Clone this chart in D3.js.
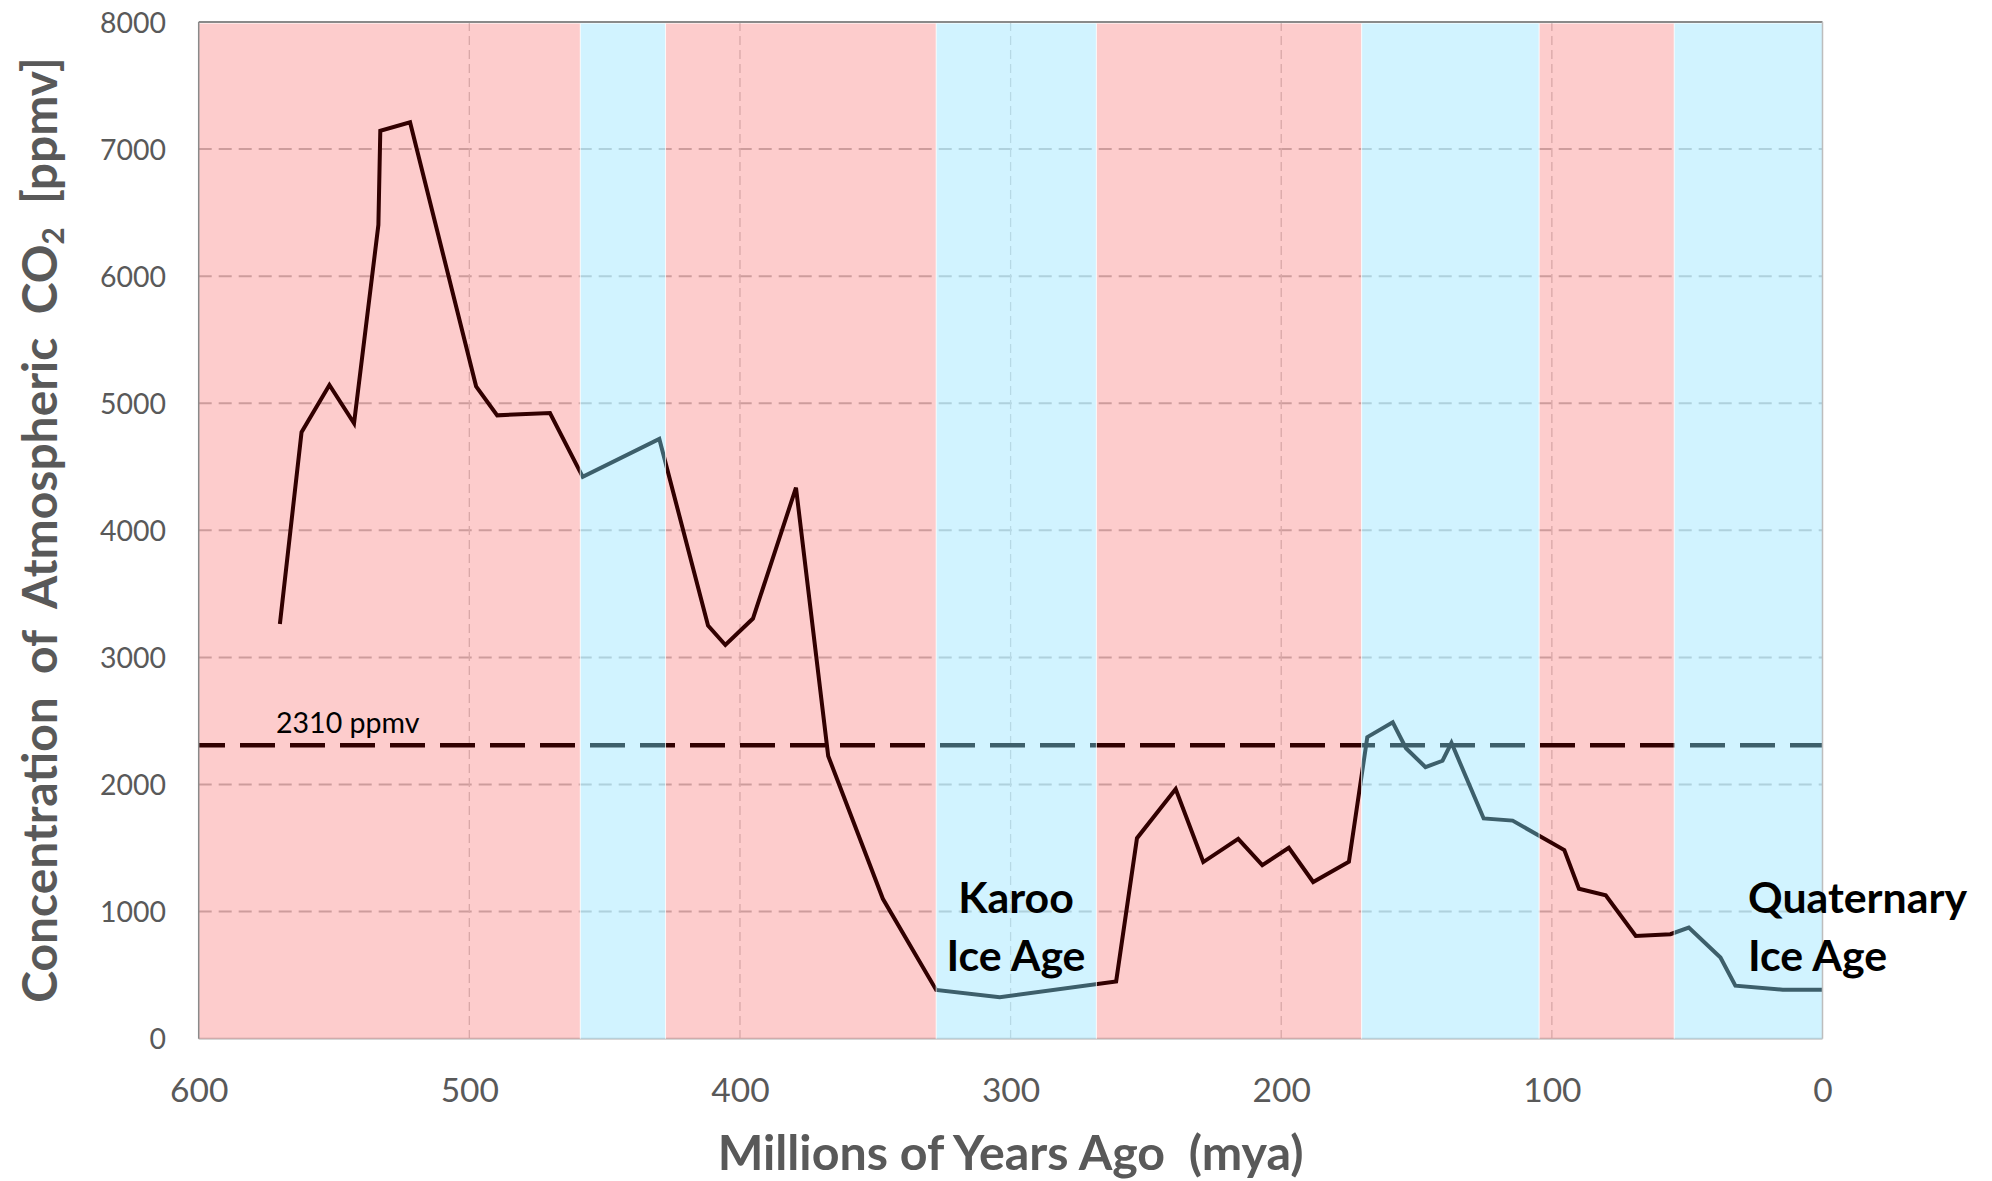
<!DOCTYPE html>
<html>
<head>
<meta charset="utf-8">
<script src="https://cdn.jsdelivr.net/npm/d3@7"></script>
<style>
  html, body { margin: 0; padding: 0; background: #fff; }
  text { white-space: pre; }
</style>
</head>
<body>
<svg id="chart" width="1992" height="1181"></svg>
<script>
// ---------------- data ----------------
const mya = [570, 562, 551.7, 542.6, 533.6, 532.9, 521.9, 497.5, 489.7, 470.2, 458.1, 429.8,
  411.8, 405.4, 395.2, 379.3, 367.4, 347.2, 327.5, 304, 261, 253.3, 239, 228.8, 215.9, 207,
  197.2, 188.2, 175, 168.2, 158.8, 153.9, 146.7, 140.4, 137.1, 125.2, 114.5, 95.4, 90, 80.1,
  69, 56.2, 49.4, 37.7, 32.2, 14.7, 0];
const co2 = [3263, 4772, 5144, 4842, 6404, 7144, 7211, 5133, 4905, 4923, 4421, 4719,
  3251, 3098, 3306, 4336, 2225, 1101, 384, 326, 451, 1578, 1965, 1390, 1573, 1366,
  1502, 1233, 1392, 2373, 2490, 2286, 2137, 2187, 2328, 1733, 1716, 1484, 1180, 1128,
  809, 822, 875, 639, 417, 386, 386];
const bandEdges = [600, 459, 427.5, 327.5, 268.3, 170.3, 104.7, 54.8, 0];
const bandTypes = ["warm", "cold", "warm", "cold", "warm", "cold", "warm", "cold"];
const yTicks = [0, 1000, 2000, 3000, 4000, 5000, 6000, 7000, 8000];
const xTicks = [600, 500, 400, 300, 200, 100, 0];
const threshold = 2310;
const thresholdLabel = "2310 ppmv";
const annotations = [
  { lines: ["Karoo", "Ice Age"], at: 298, anchor: "middle" },
  { lines: ["Quaternary", "Ice Age"], at: 27.5, anchor: "start" }
];
const xTitle = "Millions of Years Ago  (mya)";

// ---------------- layout ----------------
const L = 198.7, R = 1822.5, T = 22, B = 1038.7;
const svg = d3.select("#chart");
const x = d3.scaleLinear().domain([600, 0]).range([L, R]);
const y = d3.scaleLinear().domain([0, 8000]).range([B, T]);
const FONT = "Lato, 'Open Sans', sans-serif";
const GREY = "#595959";

function fit(sel, target) {
  const w = sel.node().getComputedTextLength();
  const fs = parseFloat(sel.attr("font-size"));
  const nfs = fs * target / w;
  sel.attr("font-size", nfs);
  return nfs;
}

// gridlines (under bands)
const grid = svg.append("g");
grid.selectAll("line.h").data(yTicks.filter(d => d > 0 && d < 8000)).join("line")
  .attr("x1", L).attr("x2", R).attr("y1", d => y(d)).attr("y2", d => y(d))
  .attr("stroke", "#c4c4c4").attr("stroke-width", 2).attr("stroke-dasharray", "13,7");
grid.selectAll("line.v").data(xTicks.filter(d => d > 0 && d < 600)).join("line")
  .attr("x1", d => x(d)).attr("x2", d => x(d)).attr("y1", T).attr("y2", B)
  .attr("stroke", "#d2d2d2").attr("stroke-width", 1.3).attr("stroke-dasharray", "9,5");

// bottom axis line (under bands)
svg.append("line").attr("x1", L).attr("x2", R).attr("y1", B).attr("y2", B)
  .attr("stroke", "#c8c8c8").attr("stroke-width", 2);

// threshold dashed line
svg.append("line").attr("x1", L).attr("x2", R)
  .attr("y1", y(threshold)).attr("y2", y(threshold))
  .attr("stroke", "#000").attr("stroke-width", 4.5)
  .attr("stroke-dasharray", "35,15").attr("stroke-dashoffset", 8.7);

// data line
const pts = mya.map((m, i) => [m, co2[i]]);
svg.append("path").datum(pts)
  .attr("d", d3.line().x(d => x(d[0])).y(d => y(d[1])))
  .attr("fill", "none").attr("stroke", "#000").attr("stroke-width", 4)
  .attr("stroke-linejoin", "miter").attr("stroke-miterlimit", 4);

// translucent climate bands on top
const bands = bandTypes.map((t, i) => ({ t, a: bandEdges[i], b: bandEdges[i + 1] }));
svg.append("g").selectAll("rect").data(bands).join("rect")
  .attr("x", d => x(d.a)).attr("width", d => x(d.b) - x(d.a))
  .attr("y", T + 1.5).attr("height", B - T - 1.5)
  .attr("fill", d => d.t === "warm" ? "rgb(243,0,0)" : "rgb(145,226,255)")
  .attr("fill-opacity", d => d.t === "warm" ? 0.2 : 0.42);
// thin white separators
svg.append("g").selectAll("line").data(bandEdges.slice(1, -1)).join("line")
  .attr("x1", d => x(d)).attr("x2", d => x(d)).attr("y1", T + 1.5).attr("y2", B)
  .attr("stroke", "#fff").attr("stroke-width", 1).attr("stroke-opacity", 0.8);

// frame
svg.append("line").attr("x1", L).attr("x2", R).attr("y1", T).attr("y2", T)
  .attr("stroke", "#8a8a8a").attr("stroke-width", 2);
svg.append("line").attr("x1", L).attr("x2", L).attr("y1", T).attr("y2", B)
  .attr("stroke", "#8a8a8a").attr("stroke-width", 1.5);
svg.append("line").attr("x1", R).attr("x2", R).attr("y1", T).attr("y2", B)
  .attr("stroke", "#bdbdbd").attr("stroke-width", 1.5);

// y axis
const yAxis = svg.append("g").attr("transform", `translate(${L},0)`)
  .call(d3.axisLeft(y).tickValues(yTicks).tickSize(0).tickPadding(32.7).tickFormat(d3.format("d")));
yAxis.select(".domain").remove();
yAxis.selectAll("text").attr("font-family", FONT).attr("font-size", 28).attr("fill", GREY)
  .attr("dy", "0.36em");
{
  const t8 = yAxis.selectAll("text").filter(d => d === 8000);
  const fs = fit(t8, 66);
  yAxis.selectAll("text").attr("font-size", fs);
}

// x axis
const xAxis = svg.append("g").attr("transform", `translate(0,${B})`)
  .call(d3.axisBottom(x).tickValues(xTicks).tickSize(0).tickFormat(d3.format("d")));
xAxis.select(".domain").remove();
xAxis.selectAll("text").attr("font-family", FONT).attr("font-size", 36).attr("fill", GREY)
  .attr("y", 63).attr("dy", 0);
{
  const t6 = xAxis.selectAll("text").filter(d => d === 600);
  const fs = fit(t6, 58.4);
  xAxis.selectAll("text").attr("font-size", fs);
}

// axis titles
const xt = svg.append("text").attr("x", (L + R) / 2).attr("y", 1170)
  .attr("text-anchor", "middle").attr("font-family", FONT).attr("font-weight", 700)
  .attr("font-size", 48).attr("fill", GREY).text(xTitle);
fit(xt, 586);

const yt = svg.append("text").attr("transform", "translate(57,530) rotate(-90)")
  .attr("text-anchor", "middle").attr("font-family", FONT).attr("font-weight", 700)
  .attr("font-size", 48).attr("fill", GREY);
yt.append("tspan").text("Concentration  of  Atmospheric  CO");
const sub = yt.append("tspan").attr("baseline-shift", "-22%").attr("font-size", "62%").text("2");
yt.append("tspan").attr("baseline-shift", "0").text("  [ppmv]");
{
  const fs = fit(yt, 946);
}

// threshold label
const tl = svg.append("text").attr("x", 276).attr("y", 733.3)
  .attr("font-family", FONT).attr("font-size", 30).attr("fill", "#000").text(thresholdLabel);
fit(tl, 143.5);

// annotations
const ann = svg.append("g");
let annFs = null;
annotations.forEach(a => {
  const g = ann.append("text").attr("font-family", FONT).attr("font-weight", 700)
    .attr("font-size", 42).attr("fill", "#000").attr("text-anchor", a.anchor);
  const xx = a.anchor === "middle" ? x(a.at) : x(a.at);
  a.lines.forEach((ln, i) => {
    g.append("tspan").attr("x", xx).attr("y", 912.5 + i * 58).text(ln);
  });
  if (annFs === null) {
    // fit "Ice Age" width to the reference
    const tmp = ann.append("text").attr("font-family", FONT).attr("font-weight", 700)
      .attr("font-size", 42).text("Ice Age");
    annFs = fit(tmp, 139);
    tmp.remove();
  }
  g.attr("font-size", annFs);
});
</script>
</body>
</html>
